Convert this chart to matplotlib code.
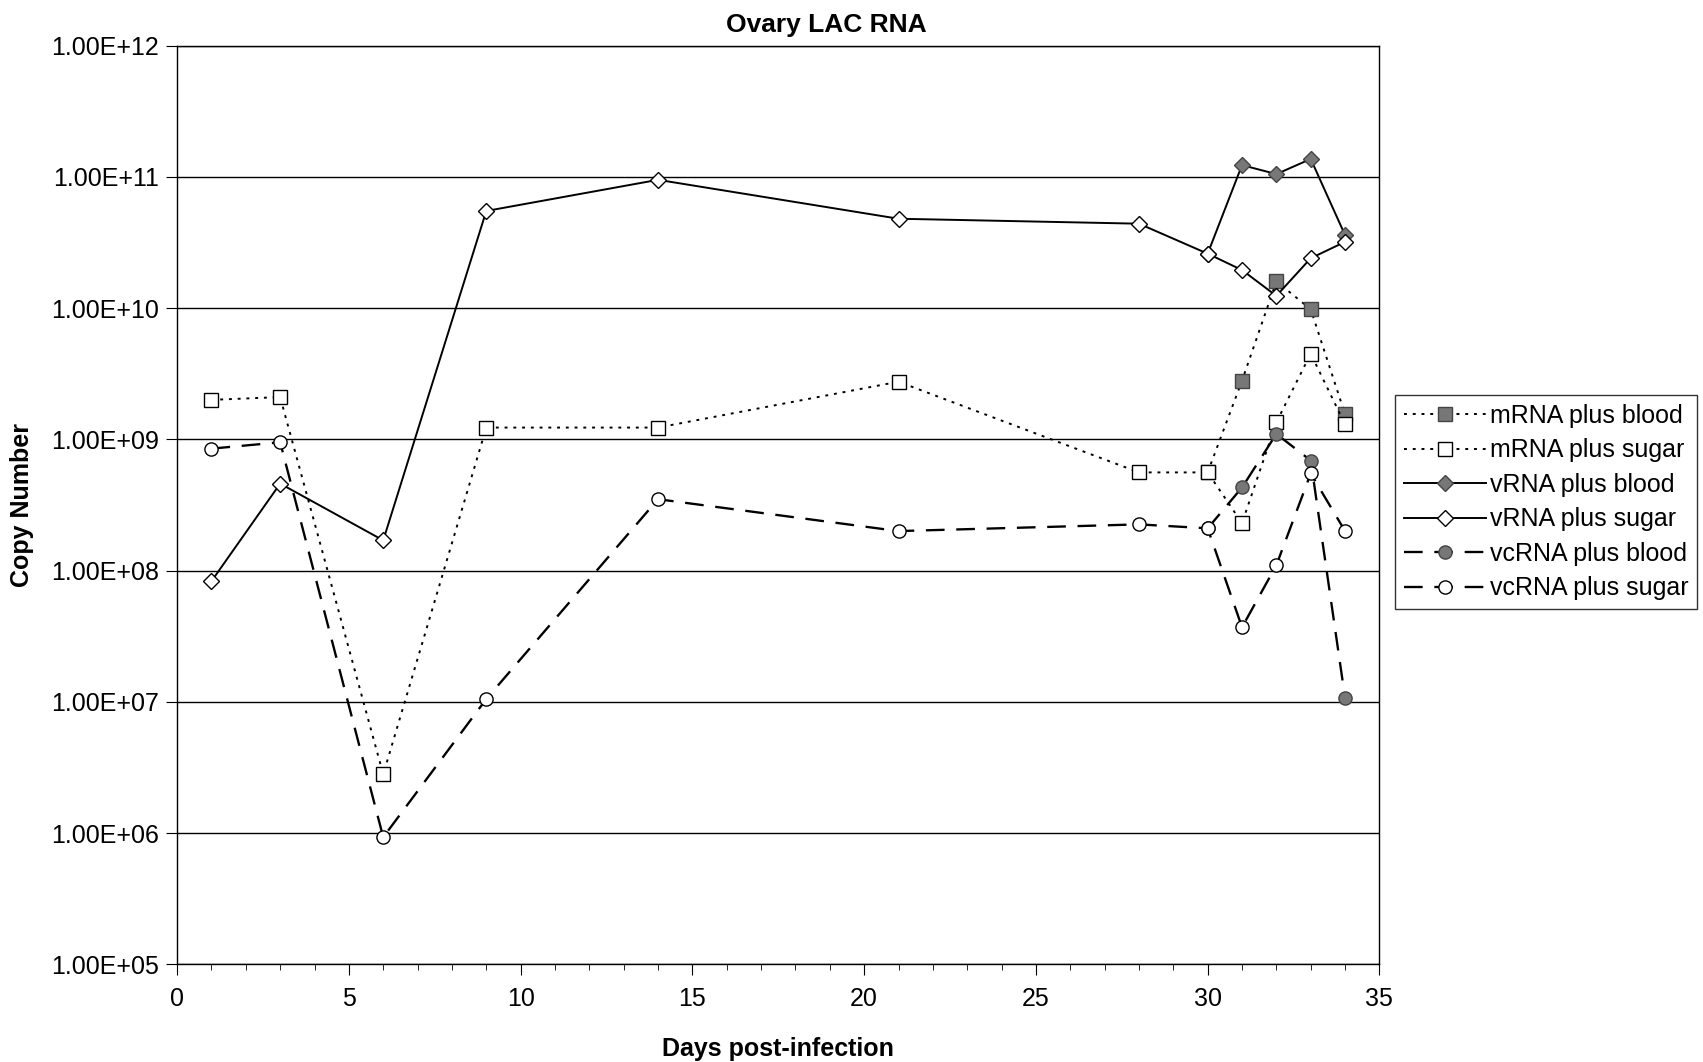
import matplotlib
matplotlib.use("Agg")
import matplotlib.pyplot as plt
from matplotlib.ticker import FixedLocator, FixedFormatter, MultipleLocator, NullLocator

plt.rcParams['font.family'] = ['Liberation Sans', 'DejaVu Sans']

days_all = [1, 3, 6, 9, 14, 21, 28, 30, 31, 32, 33, 34]
days_blood = [30, 31, 32, 33, 34]

mrna_sugar = [2.0e9, 2.1e9, 2.8e6, 1.23e9, 1.23e9, 2.75e9, 5.6e8, 5.6e8, 2.3e8, 1.35e9, 4.5e9, 1.3e9]
mrna_blood = [5.6e8, 2.8e9, 1.6e10, 9.8e9, 1.55e9]
vrna_sugar = [8.3e7, 4.6e8, 1.7e8, 5.5e10, 9.5e10, 4.8e10, 4.4e10, 2.6e10, 1.95e10, 1.24e10, 2.4e10, 3.2e10]
vrna_blood = [2.6e10, 1.23e11, 1.05e11, 1.37e11, 3.6e10]
vcrna_sugar = [8.5e8, 9.5e8, 9.3e5, 1.05e7, 3.5e8, 2.0e8, 2.25e8, 2.1e8, 3.7e7, 1.1e8, 5.5e8, 2.0e8]
vcrna_blood = [2.1e8, 4.3e8, 1.1e9, 6.9e8, 1.07e7]

ytick_vals = [1e5, 1e6, 1e7, 1e8, 1e9, 1e10, 1e11, 1e12]
ytick_labels = ["1.00E+05", "1.00E+06", "1.00E+07", "1.00E+08", "1.00E+09", "1.00E+10", "1.00E+11", "1.00E+12"]

fig = plt.figure(figsize=(17.03, 10.62), dpi=100)
ax = fig.add_axes([0.104, 0.092, 0.706, 0.865])

grey = '#777777'
ms = 9.5
lw = 1.4

ax.plot(days_blood, mrna_blood, linestyle=(0, (1.5, 3)), color='black', lw=lw,
        marker='s', ms=ms, mfc=grey, mec='#444444', label='mRNA plus blood', zorder=3)
ax.plot(days_all, mrna_sugar, linestyle=(0, (1.5, 3)), color='black', lw=lw,
        marker='s', ms=ms, mfc='white', mec='black', label='mRNA plus sugar', zorder=3)
ax.plot(days_blood, vrna_blood, linestyle='-', color='black', lw=lw,
        marker='D', ms=ms*0.85, mfc=grey, mec='#444444', label='vRNA plus blood', zorder=3)
ax.plot(days_all, vrna_sugar, linestyle='-', color='black', lw=lw,
        marker='D', ms=ms*0.85, mfc='white', mec='black', label='vRNA plus sugar', zorder=4)
ax.plot(days_blood, vcrna_blood, linestyle=(0, (8, 5)), color='black', lw=lw*1.2,
        marker='o', ms=ms, mfc=grey, mec='#444444', label='vcRNA plus blood', zorder=3)
ax.plot(days_all, vcrna_sugar, linestyle=(0, (8, 5)), color='black', lw=lw*1.2,
        marker='o', ms=ms, mfc='white', mec='black', label='vcRNA plus sugar', zorder=4)

ax.set_yscale('log')
ax.set_ylim(1e5, 1e12)
ax.set_xlim(0, 35)
ax.yaxis.set_major_locator(FixedLocator(ytick_vals))
ax.yaxis.set_major_formatter(FixedFormatter(ytick_labels))
ax.yaxis.set_minor_locator(NullLocator())
ax.xaxis.set_major_locator(MultipleLocator(5))
ax.xaxis.set_minor_locator(MultipleLocator(1))
ax.grid(axis='y', which='major', color='black', lw=1.0)
ax.set_axisbelow(True)
for s in ax.spines.values():
    s.set_linewidth(1.0)
ax.tick_params(axis='both', which='major', direction='out', length=8, labelsize=18, pad=5)
ax.tick_params(axis='x', which='major', pad=8)
ax.tick_params(axis='x', which='minor', direction='out', length=4)

ax.set_title('Ovary LAC RNA', fontsize=19, fontweight='bold', pad=10, x=0.54)
ax.set_xlabel('Days post-infection', fontsize=18, fontweight='bold', labelpad=19)
ax.set_ylabel('Copy Number', fontsize=18, fontweight='bold', labelpad=12)

leg = ax.legend(loc='center left', bbox_to_anchor=(1.013, 0.503), fontsize=18,
                frameon=True, fancybox=False, edgecolor='black', handlelength=3.3,
                handletextpad=0.15, labelspacing=0.42, borderpad=0.35, borderaxespad=0)
leg.get_frame().set_linewidth(1.0)

fig.savefig('out.png', dpi=100, facecolor='white')
